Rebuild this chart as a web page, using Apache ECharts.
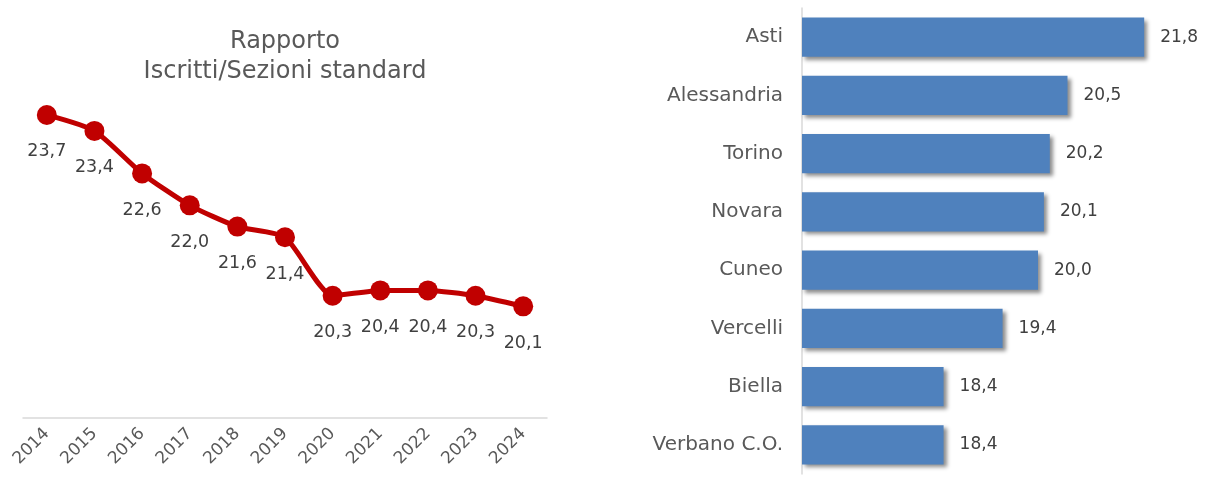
<!DOCTYPE html>
<html><head><meta charset="utf-8">
<script src="https://cdn.jsdelivr.net/npm/echarts@6/dist/echarts.min.js"></script>
<style>html,body{margin:0;padding:0;background:#fff}#c{width:1207px;height:481px}</style>
</head><body><div id="c"></div>
<script>
const years = ['2014','2015','2016','2017','2018','2019','2020','2021','2022','2023','2024'];
const ratio = [23.7, 23.4, 22.6, 22.0, 21.6, 21.4, 20.3, 20.4, 20.4, 20.3, 20.1];
const provinces = ['Asti','Alessandria','Torino','Novara','Cuneo','Vercelli','Biella','Verbano C.O.'];
const provValues = [21.8, 20.5, 20.2, 20.1, 20.0, 19.4, 18.4, 18.4];
const titleText = 'Rapporto\nIscritti/Sezioni standard';

const FONT = "'DejaVu Sans',sans-serif";
const fmt = v => v.toFixed(1).replace('.', ',');
const chart = echarts.init(document.getElementById('c'), null, {renderer:'canvas'});
chart.setOption({
  animation:false,
  textStyle:{fontFamily:FONT},
  title:{text:titleText, left:285, top:27, textAlign:'center', padding:0,
    textStyle:{fontFamily:FONT, fontSize:24, fontWeight:'normal', color:'#595959', lineHeight:30}},
  grid:[
    {left:23, top:99, width:524, height:319},
    {left:802, top:8, width:354, height:466}
  ],
  xAxis:[
    {type:'category', gridIndex:0, data:years, boundaryGap:true,
      axisLine:{lineStyle:{color:'#d9d9d9', width:1.5}}, axisTick:{show:false},
      axisLabel:{rotate:45, color:'#595959', fontSize:17, fontFamily:FONT, margin:13, interval:0}},
    {type:'value', gridIndex:1, min:16, max:22, show:false}
  ],
  yAxis:[
    {type:'value', gridIndex:0, min:18, max:24, show:false},
    {type:'category', gridIndex:1, data:provinces, inverse:true,
      axisLine:{lineStyle:{color:'#d9d9d9', width:1.5}}, axisTick:{show:false},
      axisLabel:{color:'#595959', fontSize:20, fontFamily:FONT, margin:19}}
  ],
  series:[
    {type:'line', xAxisIndex:0, yAxisIndex:0, data:ratio, smooth:0.2,
      symbol:'circle', symbolSize:20,
      lineStyle:{color:'#C00000', width:5}, itemStyle:{color:'#C00000'},
      label:{show:true, position:'bottom', distance:18, color:'#404040', fontSize:17.5, fontFamily:FONT,
        formatter:p=>fmt(p.value)}},
    {type:'bar', xAxisIndex:1, yAxisIndex:1, data:provValues, barCategoryGap:'33%',
      itemStyle:{color:'#4F81BD', shadowColor:'rgba(0,0,0,0.45)', shadowBlur:4, shadowOffsetX:3, shadowOffsetY:3},
      label:{show:true, position:'right', distance:16, color:'#404040', fontSize:17, fontFamily:FONT,
        formatter:p=>fmt(p.value)}}
  ]
});
</script></body></html>
